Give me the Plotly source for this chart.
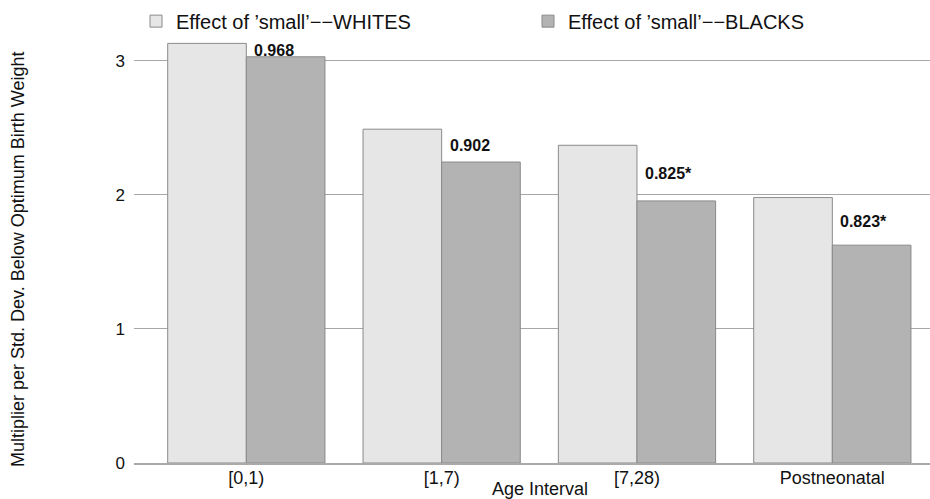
import plotly.graph_objects as go

categories = ["[0,1)", "[1,7)", "[7,28)", "Postneonatal"]
whites = [3.13, 2.49, 2.37, 1.98]
blacks = [3.03, 2.245, 1.955, 1.625]
ratio_labels = ["0.968", "0.902", "0.825*", "0.823*"]
y_ticks = [0, 1, 2, 3]
series_names = ["Effect of ’small’−−WHITES", "Effect of ’small’−−BLACKS"]

FONT = "Liberation Sans, Arial, sans-serif"

fig = go.Figure()
fig.add_trace(go.Bar(
    x=list(range(len(categories))), y=whites, name=series_names[0],
    marker=dict(color="#e6e6e6", line=dict(color="#8a8a8a", width=1)),
    offset=-0.4025, width=0.4025, legend="legend",
))
fig.add_trace(go.Bar(
    x=list(range(len(categories))), y=blacks, name=series_names[1],
    marker=dict(color="#b3b3b3", line=dict(color="#8a8a8a", width=1)),
    offset=0, width=0.4025, legend="legend2",
))

for i, (w, b, lab) in enumerate(zip(whites, blacks, ratio_labels)):
    fig.add_annotation(x=i, y=(w + b) / 2, text="<b>" + lab + "</b>", showarrow=False,
                       xanchor="left", yanchor="middle", xshift=6,
                       font=dict(family=FONT, size=16, color="#111"))

fig.add_annotation(xref="paper", yref="paper", x=(540 - 134) / 796, y=-(489 - 463) / 429,
                   text="Age Interval", showarrow=False, xanchor="center", yanchor="middle",
                   font=dict(family=FONT, size=18, color="#111"))
fig.add_annotation(xref="paper", yref="paper", x=-(134 - 18) / 796, y=(463 - 260) / 429,
                   text="Multiplier per Std. Dev. Below Optimum Birth Weight", showarrow=False,
                   textangle=-90, xanchor="center", yanchor="middle",
                   font=dict(family=FONT, size=18, color="#111"))

legend_common = dict(orientation="h", yanchor="middle", xanchor="left", y=1.03,
                     font=dict(family=FONT, size=20, color="#111"),
                     bgcolor="rgba(0,0,0,0)")
fig.update_layout(
    width=930, height=499,
    margin=dict(l=134, r=0, t=34, b=36, autoexpand=False),
    paper_bgcolor="white", plot_bgcolor="white",
    showlegend=True,
    legend=dict(x=2 / 796, **legend_common),
    legend2=dict(x=394 / 796, **legend_common),
    bargap=0.195, barmode="overlay",
)
fig.update_xaxes(
    range=[-0.575, 3.5], tickmode="array", tickvals=list(range(len(categories))),
    ticktext=categories, showgrid=False, zeroline=False, showline=True,
    linecolor="#aaaaaa", linewidth=2, ticks="", ticklabelstandoff=-3,
    tickfont=dict(family=FONT, size=18, color="#111"),
)
fig.update_yaxes(
    range=[0, 3.2], tickvals=y_ticks, showgrid=True, gridcolor="#a6a6a6", gridwidth=1,
    zeroline=False, showline=False, ticks="", ticklabelstandoff=8,
    tickfont=dict(family=FONT, size=17, color="#111"),
)

fig.write_html("out.html", config={"displayModeBar": False},
               post_script="document.body.style.margin='0';")
